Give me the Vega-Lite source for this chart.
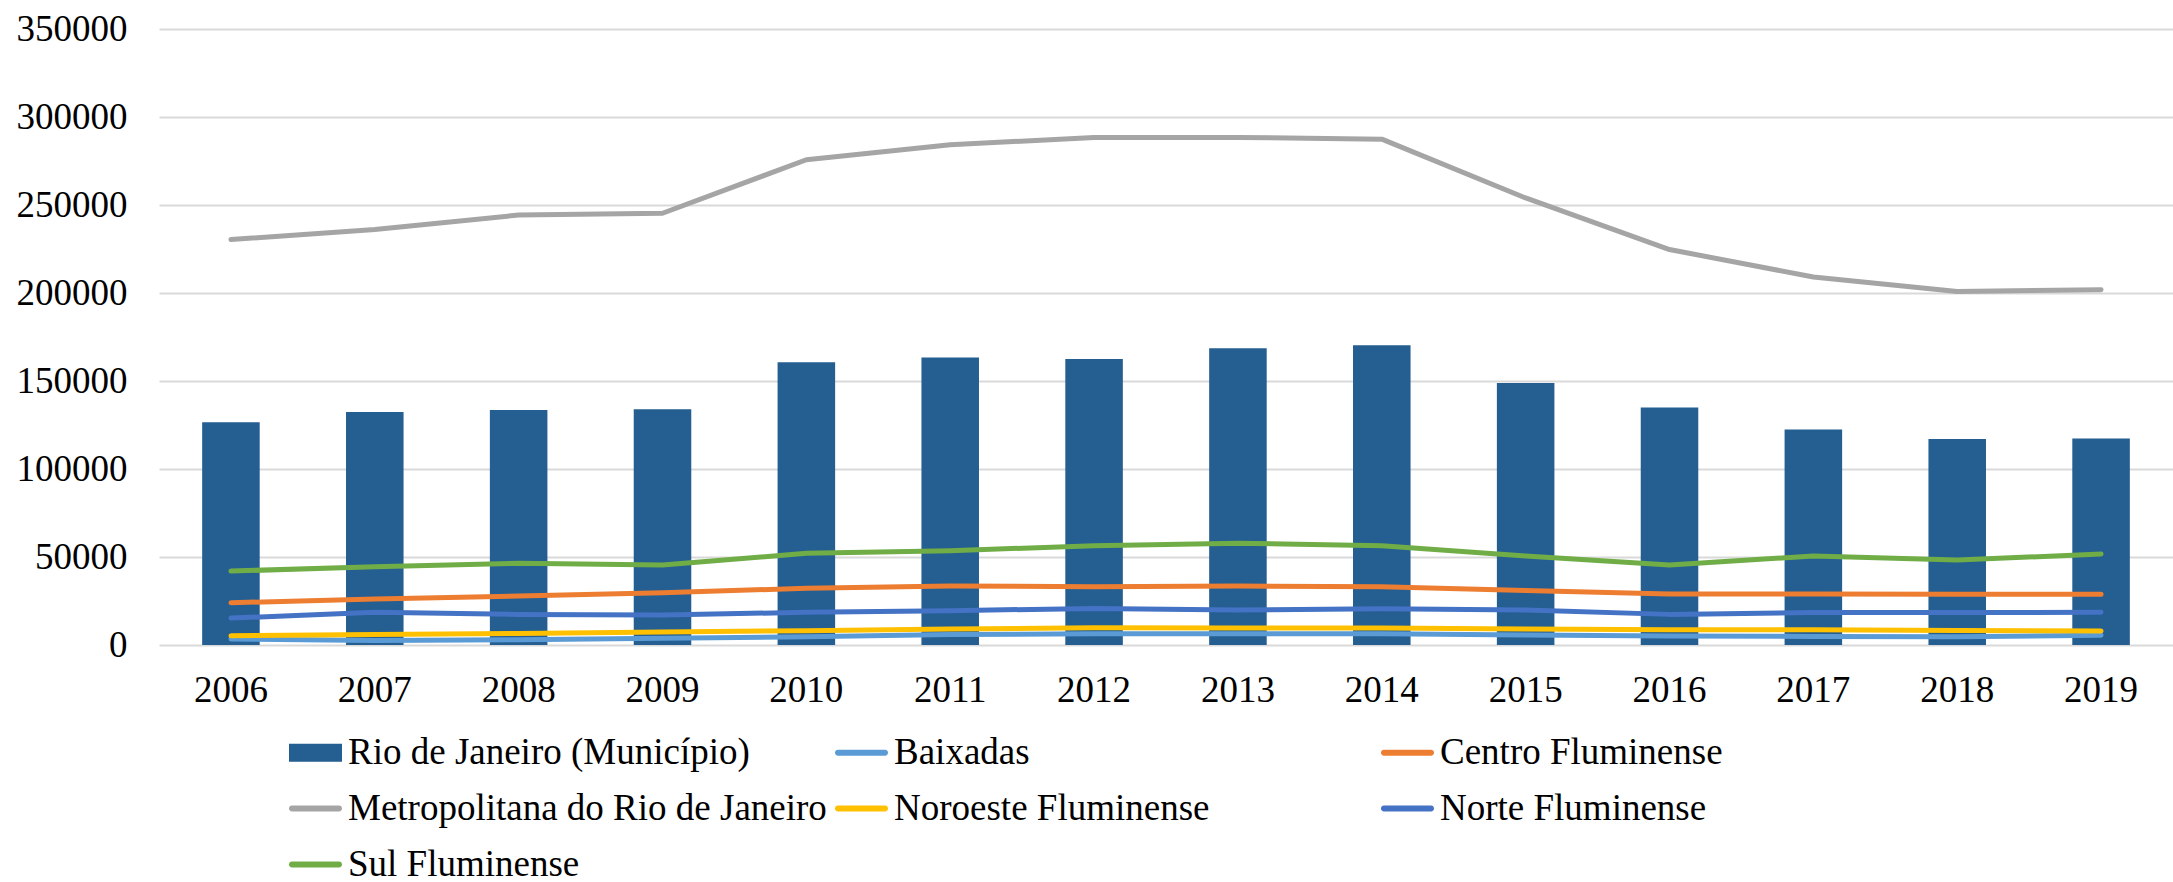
{
  "$schema": "https://vega.github.io/schema/vega-lite/v6.json",
  "autosize": "none",
  "width": 2014,
  "height": 616,
  "padding": {"left": 159, "top": 29, "right": 0, "bottom": 237},
  "background": "white",
  "config": {
    "view": {"stroke": null},
    "font": "Liberation Serif",
    "axis": {"labelFont": "Liberation Serif", "labelFontSize": 37, "labelColor": "black", "ticks": false, "domain": false, "title": null},
    "legend": {"labelFont": "Liberation Serif", "labelFontSize": 37, "labelColor": "black"}
  },
  "data": {"values": [
    {"ano": "2006", "serie": "Rio de Janeiro (Município)", "valor": 126500},
    {"ano": "2007", "serie": "Rio de Janeiro (Município)", "valor": 132400},
    {"ano": "2008", "serie": "Rio de Janeiro (Município)", "valor": 133500},
    {"ano": "2009", "serie": "Rio de Janeiro (Município)", "valor": 133900},
    {"ano": "2010", "serie": "Rio de Janeiro (Município)", "valor": 160600},
    {"ano": "2011", "serie": "Rio de Janeiro (Município)", "valor": 163300},
    {"ano": "2012", "serie": "Rio de Janeiro (Município)", "valor": 162500},
    {"ano": "2013", "serie": "Rio de Janeiro (Município)", "valor": 168600},
    {"ano": "2014", "serie": "Rio de Janeiro (Município)", "valor": 170300},
    {"ano": "2015", "serie": "Rio de Janeiro (Município)", "valor": 148900},
    {"ano": "2016", "serie": "Rio de Janeiro (Município)", "valor": 134900},
    {"ano": "2017", "serie": "Rio de Janeiro (Município)", "valor": 122500},
    {"ano": "2018", "serie": "Rio de Janeiro (Município)", "valor": 117000},
    {"ano": "2019", "serie": "Rio de Janeiro (Município)", "valor": 117400},
    {"ano": "2006", "serie": "Baixadas", "valor": 3400},
    {"ano": "2007", "serie": "Baixadas", "valor": 2500},
    {"ano": "2008", "serie": "Baixadas", "valor": 3000},
    {"ano": "2009", "serie": "Baixadas", "valor": 3800},
    {"ano": "2010", "serie": "Baixadas", "valor": 4700},
    {"ano": "2011", "serie": "Baixadas", "valor": 5900},
    {"ano": "2012", "serie": "Baixadas", "valor": 6400},
    {"ano": "2013", "serie": "Baixadas", "valor": 6400},
    {"ano": "2014", "serie": "Baixadas", "valor": 6400},
    {"ano": "2015", "serie": "Baixadas", "valor": 5700},
    {"ano": "2016", "serie": "Baixadas", "valor": 5100},
    {"ano": "2017", "serie": "Baixadas", "valor": 4900},
    {"ano": "2018", "serie": "Baixadas", "valor": 4700},
    {"ano": "2019", "serie": "Baixadas", "valor": 5500},
    {"ano": "2006", "serie": "Centro Fluminense", "valor": 24000},
    {"ano": "2007", "serie": "Centro Fluminense", "valor": 26100},
    {"ano": "2008", "serie": "Centro Fluminense", "valor": 27800},
    {"ano": "2009", "serie": "Centro Fluminense", "valor": 29700},
    {"ano": "2010", "serie": "Centro Fluminense", "valor": 32200},
    {"ano": "2011", "serie": "Centro Fluminense", "valor": 33500},
    {"ano": "2012", "serie": "Centro Fluminense", "valor": 33100},
    {"ano": "2013", "serie": "Centro Fluminense", "valor": 33500},
    {"ano": "2014", "serie": "Centro Fluminense", "valor": 33100},
    {"ano": "2015", "serie": "Centro Fluminense", "valor": 30900},
    {"ano": "2016", "serie": "Centro Fluminense", "valor": 29000},
    {"ano": "2017", "serie": "Centro Fluminense", "valor": 29000},
    {"ano": "2018", "serie": "Centro Fluminense", "valor": 28800},
    {"ano": "2019", "serie": "Centro Fluminense", "valor": 28800},
    {"ano": "2006", "serie": "Metropolitana do Rio de Janeiro", "valor": 230400},
    {"ano": "2007", "serie": "Metropolitana do Rio de Janeiro", "valor": 236100},
    {"ano": "2008", "serie": "Metropolitana do Rio de Janeiro", "valor": 244300},
    {"ano": "2009", "serie": "Metropolitana do Rio de Janeiro", "valor": 245300},
    {"ano": "2010", "serie": "Metropolitana do Rio de Janeiro", "valor": 275700},
    {"ano": "2011", "serie": "Metropolitana do Rio de Janeiro", "valor": 284200},
    {"ano": "2012", "serie": "Metropolitana do Rio de Janeiro", "valor": 288400},
    {"ano": "2013", "serie": "Metropolitana do Rio de Janeiro", "valor": 288400},
    {"ano": "2014", "serie": "Metropolitana do Rio de Janeiro", "valor": 287400},
    {"ano": "2015", "serie": "Metropolitana do Rio de Janeiro", "valor": 254000},
    {"ano": "2016", "serie": "Metropolitana do Rio de Janeiro", "valor": 224700},
    {"ano": "2017", "serie": "Metropolitana do Rio de Janeiro", "valor": 209100},
    {"ano": "2018", "serie": "Metropolitana do Rio de Janeiro", "valor": 200900},
    {"ano": "2019", "serie": "Metropolitana do Rio de Janeiro", "valor": 201900},
    {"ano": "2006", "serie": "Noroeste Fluminense", "valor": 5300},
    {"ano": "2007", "serie": "Noroeste Fluminense", "valor": 5900},
    {"ano": "2008", "serie": "Noroeste Fluminense", "valor": 6600},
    {"ano": "2009", "serie": "Noroeste Fluminense", "valor": 7400},
    {"ano": "2010", "serie": "Noroeste Fluminense", "valor": 8100},
    {"ano": "2011", "serie": "Noroeste Fluminense", "valor": 9100},
    {"ano": "2012", "serie": "Noroeste Fluminense", "valor": 9800},
    {"ano": "2013", "serie": "Noroeste Fluminense", "valor": 9700},
    {"ano": "2014", "serie": "Noroeste Fluminense", "valor": 9700},
    {"ano": "2015", "serie": "Noroeste Fluminense", "valor": 9100},
    {"ano": "2016", "serie": "Noroeste Fluminense", "valor": 8700},
    {"ano": "2017", "serie": "Noroeste Fluminense", "valor": 8700},
    {"ano": "2018", "serie": "Noroeste Fluminense", "valor": 8300},
    {"ano": "2019", "serie": "Noroeste Fluminense", "valor": 7900},
    {"ano": "2006", "serie": "Norte Fluminense", "valor": 15300},
    {"ano": "2007", "serie": "Norte Fluminense", "valor": 18600},
    {"ano": "2008", "serie": "Norte Fluminense", "valor": 17400},
    {"ano": "2009", "serie": "Norte Fluminense", "valor": 17000},
    {"ano": "2010", "serie": "Norte Fluminense", "valor": 18600},
    {"ano": "2011", "serie": "Norte Fluminense", "valor": 19500},
    {"ano": "2012", "serie": "Norte Fluminense", "valor": 20800},
    {"ano": "2013", "serie": "Norte Fluminense", "valor": 19900},
    {"ano": "2014", "serie": "Norte Fluminense", "valor": 20600},
    {"ano": "2015", "serie": "Norte Fluminense", "valor": 19900},
    {"ano": "2016", "serie": "Norte Fluminense", "valor": 17400},
    {"ano": "2017", "serie": "Norte Fluminense", "valor": 18400},
    {"ano": "2018", "serie": "Norte Fluminense", "valor": 18400},
    {"ano": "2019", "serie": "Norte Fluminense", "valor": 18600},
    {"ano": "2006", "serie": "Sul Fluminense", "valor": 42000},
    {"ano": "2007", "serie": "Sul Fluminense", "valor": 44500},
    {"ano": "2008", "serie": "Sul Fluminense", "valor": 46400},
    {"ano": "2009", "serie": "Sul Fluminense", "valor": 45400},
    {"ano": "2010", "serie": "Sul Fluminense", "valor": 52100},
    {"ano": "2011", "serie": "Sul Fluminense", "valor": 53600},
    {"ano": "2012", "serie": "Sul Fluminense", "valor": 56400},
    {"ano": "2013", "serie": "Sul Fluminense", "valor": 57800},
    {"ano": "2014", "serie": "Sul Fluminense", "valor": 56400},
    {"ano": "2015", "serie": "Sul Fluminense", "valor": 50600},
    {"ano": "2016", "serie": "Sul Fluminense", "valor": 45400},
    {"ano": "2017", "serie": "Sul Fluminense", "valor": 50600},
    {"ano": "2018", "serie": "Sul Fluminense", "valor": 48300},
    {"ano": "2019", "serie": "Sul Fluminense", "valor": 51700}
  ]},
  "encoding": {
    "x": {"field": "ano", "type": "ordinal", "scale": {"paddingInner": 0.6, "paddingOuter": 0.3}, "axis": {"labelAngle": 0, "labelPadding": 27, "grid": false}},
    "y": {"field": "valor", "type": "quantitative", "scale": {"domain": [0, 350000], "nice": false}, "axis": {"values": [0, 50000, 100000, 150000, 200000, 250000, 300000, 350000], "format": "d", "labelPadding": 32, "gridColor": "#d9d9d9", "gridWidth": 2}},
    "color": {
      "field": "serie", "type": "nominal",
      "scale": {
        "domain": ["Rio de Janeiro (Município)", "Baixadas", "Centro Fluminense", "Metropolitana do Rio de Janeiro", "Noroeste Fluminense", "Norte Fluminense", "Sul Fluminense"],
        "range": ["#255E91", "#5B9BD5", "#ED7D31", "#A5A5A5", "#FFC000", "#4472C4", "#70AD47"]
      },
      "legend": {
        "title": null,
        "orient": "none",
        "legendX": 130,
        "legendY": 697,
        "direction": "horizontal",
        "columns": 3,
        "gridAlign": "all",
        "columnPadding": 7,
        "rowPadding": 11,
        "symbolSize": 2809,
        "symbolType": "M-1,-0.11H1V0.11H-1Z",
        "symbolStrokeWidth": 0,
        "labelFont": "Liberation Serif",
        "labelFontSize": 37,
        "labelColor": "black",
        "labelOffset": 6,
        "labelLimit": 0,
        "encode": {
          "symbols": {
            "update": {
              "shape": {"signal": "datum.value === 'Rio de Janeiro (Município)' ? 'M-1,-0.34H1V0.34H-1Z' : 'M-0.89,-0.11H0.89A0.11,0.11,0,0,1,0.89,0.11H-0.89A0.11,0.11,0,0,1,-0.89,-0.11Z'"},
              "fill": {"scale": "color", "field": "value"},
              "stroke": {"value": "transparent"},
              "opacity": {"value": 1}
            }
          },
          "labels": {
            "update": {
              "font": {"value": "Liberation Serif"},
              "fontSize": {"value": 37},
              "fill": {"value": "black"}
            }
          }
        }
      }
    }
  },
  "layer": [
    {
      "transform": [{"filter": "datum.serie === 'Rio de Janeiro (Município)'"}],
      "mark": {"type": "bar"}
    },
    {
      "transform": [{"filter": "datum.serie !== 'Rio de Janeiro (Município)'"}],
      "mark": {"type": "line", "strokeWidth": 5, "strokeCap": "round", "strokeJoin": "round"},
      "encoding": {"x": {"field": "ano", "type": "ordinal", "bandPosition": 0.5}}
    }
  ]
}
